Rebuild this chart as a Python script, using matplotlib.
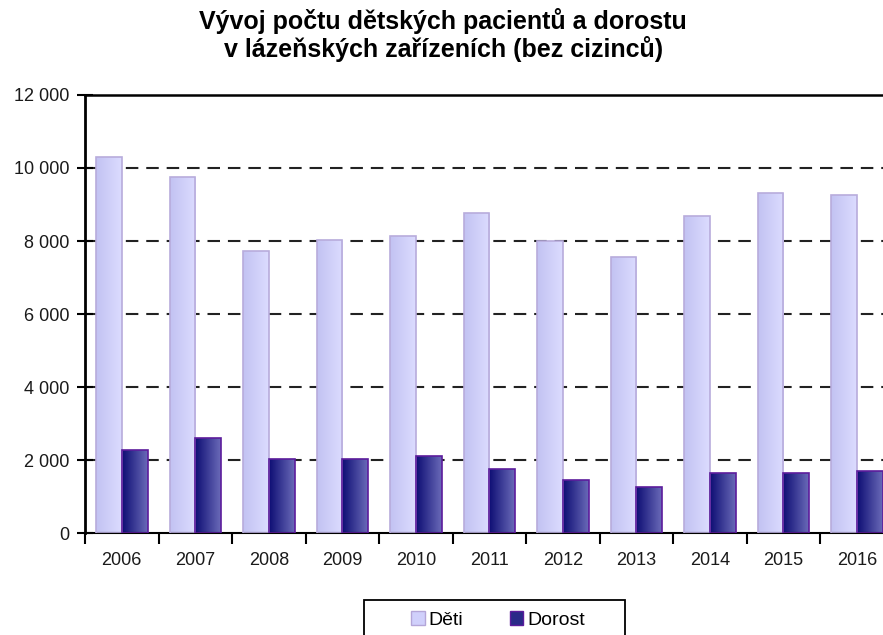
import numpy as np
import matplotlib
matplotlib.use("Agg")
import matplotlib.pyplot as plt
from matplotlib.patches import Patch, Rectangle
from matplotlib.colors import LinearSegmentedColormap

plt.rcParams["font.family"] = ["Liberation Sans", "DejaVu Sans"]

# Data
years = ["2006", "2007", "2008", "2009", "2010", "2011",
         "2012", "2013", "2014", "2015", "2016"]
deti = [10300, 9750, 7730, 8030, 8140, 8770, 8000, 7560, 8680, 9320, 9260]
dorost = [2270, 2600, 2030, 2030, 2110, 1750, 1450, 1260, 1640, 1640, 1700]

yticks = [0, 2000, 4000, 6000, 8000, 10000, 12000]
ytick_labels = ["0", "2 000", "4 000", "6 000", "8 000", "10 000", "12 000"]

DETI_CMAP = LinearSegmentedColormap.from_list("deti", ["#c2c2f2", "#dcdcff"])
DOROST_CMAP = LinearSegmentedColormap.from_list("dorost", ["#0e0e74", "#6a6ab8"])


def gradient_bars(ax, x, heights, width, cmap, edge):
    bars = ax.bar(x, heights, width=width, color="none", edgecolor=edge,
                  linewidth=1.2, zorder=3)
    grad = np.linspace(0, 1, 64).reshape(1, -1)
    for bar in bars:
        x0, w, h = bar.get_x(), bar.get_width(), bar.get_height()
        im = ax.imshow(grad, cmap=cmap, aspect="auto", extent=(x0, x0 + w, 0, h),
                       zorder=2.5, interpolation="bicubic")
        im.set_clip_path(bar)
    return bars


fig = plt.figure(figsize=(8.83, 6.35), dpi=100)
ax = fig.add_axes([0.0963, 0.1606, 0.9157, 0.6898])

x = np.arange(len(years))
w = 0.35
gradient_bars(ax, x - w / 2, deti, w, DETI_CMAP, "#b8acdc")
gradient_bars(ax, x + w / 2, dorost, w, DOROST_CMAP, "#5c1c9c")

ax.set_xlim(-0.5, len(years) - 0.5)
ax.set_ylim(0, 12000)

ax.set_yticks(yticks)
ax.set_yticklabels(ytick_labels)
ax.set_xticks(x)
ax.set_xticklabels(years)
ax.set_xticks(np.arange(len(years) + 1) - 0.5, minor=True)
ax.tick_params(axis="x", which="major", length=0, pad=14, labelsize=13, labelcolor="#1a1a1a")
ax.tick_params(axis="x", which="minor", length=8, width=1.5, direction="out")
ax.tick_params(axis="y", length=12, width=1.5, direction="inout", pad=5,
               labelsize=13, labelcolor="#1a1a1a")

for y in yticks[1:-1]:
    ax.axhline(y, color="#222222", linewidth=1.5, linestyle=(0, (6, 3.8)), zorder=1)

ax.spines["right"].set_visible(False)
ax.spines["left"].set_linewidth(2)
ax.spines["bottom"].set_linewidth(1.5)
ax.spines["top"].set_linewidth(1.8)
ax.set_facecolor("white")

fig.text(0.502, 0.988, "Vývoj počtu dětských pacientů a dorostu\nv lázeňských zařízeních (bez cizinců)",
         ha="center", va="top", fontsize=18, fontweight="bold", linespacing=1.12)

handles = [Patch(facecolor="#d0d0fb", edgecolor="#b4a6d8", label="Děti"),
           Patch(facecolor="#2a2a88", edgecolor="#5c1c9c", label="Dorost")]
leg = fig.legend(handles=handles, loc="center", bbox_to_anchor=(0.564, 0.024),
                 ncol=2, frameon=False, fontsize=14,
                 handlelength=0.7, handleheight=0.7, handletextpad=0.2,
                 columnspacing=2.4, borderpad=0.0)
# legend box, cut off by the lower edge like in the source
fig.patches.append(Rectangle((364 / 883, -0.05), (625 - 364) / 883, 0.05 + 35 / 635,
                             transform=fig.transFigure, fill=False,
                             edgecolor="black", linewidth=1.3))

fig.savefig("out.png", dpi=100)
